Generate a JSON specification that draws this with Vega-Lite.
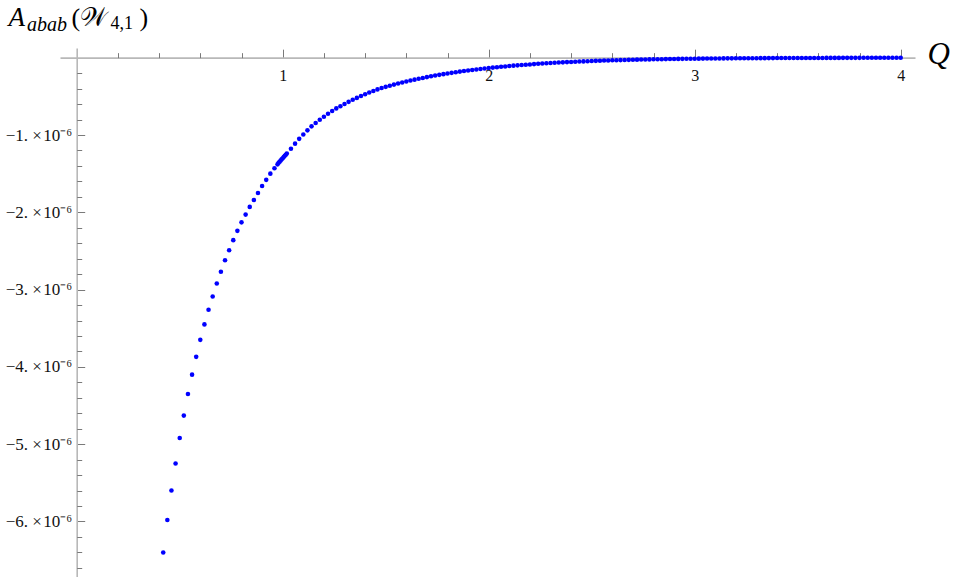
{
  "$schema": "https://vega.github.io/schema/vega-lite/v6.json",
  "autosize": "none",
  "width": 855,
  "height": 529,
  "padding": {"left": 60, "top": 48, "right": 39, "bottom": 0},
  "background": "white",
  "data": {"values": [
    {"Q":0.42,"A":-6.40e-6},{"Q":0.44,"A":-5.98e-6},{"Q":0.46,"A":-5.60e-6},{"Q":0.48,"A":-5.25e-6},
    {"Q":0.50,"A":-4.92e-6},{"Q":0.52,"A":-4.63e-6},{"Q":0.54,"A":-4.35e-6},{"Q":0.56,"A":-4.10e-6},
    {"Q":0.58,"A":-3.87e-6},{"Q":0.60,"A":-3.65e-6},{"Q":0.62,"A":-3.45e-6},{"Q":0.64,"A":-3.26e-6},
    {"Q":0.66,"A":-3.09e-6},{"Q":0.68,"A":-2.92e-6},{"Q":0.70,"A":-2.77e-6},{"Q":0.72,"A":-2.62e-6},
    {"Q":0.74,"A":-2.49e-6},{"Q":0.76,"A":-2.36e-6},{"Q":0.78,"A":-2.24e-6},{"Q":0.80,"A":-2.13e-6},
    {"Q":0.82,"A":-2.03e-6},{"Q":0.84,"A":-1.93e-6},{"Q":0.86,"A":-1.84e-6},{"Q":0.88,"A":-1.75e-6},
    {"Q":0.90,"A":-1.66e-6},{"Q":0.92,"A":-1.58e-6},{"Q":0.94,"A":-1.50e-6},{"Q":0.96,"A":-1.43e-6},
    {"Q":0.975,"A":-1.38e-6},{"Q":0.98,"A":-1.36e-6},{"Q":0.985,"A":-1.345e-6},{"Q":0.99,"A":-1.33e-6},
    {"Q":0.995,"A":-1.315e-6},{"Q":1.00,"A":-1.30e-6},{"Q":1.005,"A":-1.285e-6},{"Q":1.01,"A":-1.27e-6},
    {"Q":1.015,"A":-1.255e-6},{"Q":1.02,"A":-1.24e-6},{"Q":1.04,"A":-1.178e-6},{"Q":1.06,"A":-1.112e-6},
    {"Q":1.08,"A":-1.05e-6},{"Q":1.10,"A":-0.993e-6},{"Q":1.12,"A":-0.94e-6},{"Q":1.14,"A":-0.888e-6},
    {"Q":1.16,"A":-0.845e-6},{"Q":1.18,"A":-0.802e-6},{"Q":1.20,"A":-0.763e-6},{"Q":1.22,"A":-0.724e-6},
    {"Q":1.24,"A":-0.69e-6},{"Q":1.26,"A":-0.656e-6},{"Q":1.28,"A":-0.628e-6},{"Q":1.30,"A":-0.600e-6},
    {"Q":1.32,"A":-0.571e-6},{"Q":1.34,"A":-0.545e-6},{"Q":1.36,"A":-0.52e-6},{"Q":1.38,"A":-0.495e-6},
    {"Q":1.40,"A":-0.472e-6},{"Q":1.42,"A":-0.45e-6},{"Q":1.44,"A":-0.43e-6},{"Q":1.46,"A":-0.41e-6},
    {"Q":1.48,"A":-0.393e-6},{"Q":1.50,"A":-0.377e-6},{"Q":1.52,"A":-0.362e-6},{"Q":1.54,"A":-0.348e-6},
    {"Q":1.56,"A":-0.334e-6},{"Q":1.58,"A":-0.321e-6},{"Q":1.60,"A":-0.308e-6},{"Q":1.62,"A":-0.296e-6},
    {"Q":1.64,"A":-0.284e-6},{"Q":1.66,"A":-0.273e-6},{"Q":1.68,"A":-0.262e-6},{"Q":1.70,"A":-0.251e-6},
    {"Q":1.72,"A":-0.241e-6},{"Q":1.74,"A":-0.231e-6},{"Q":1.76,"A":-0.222e-6},{"Q":1.78,"A":-0.213e-6},
    {"Q":1.80,"A":-0.204e-6},{"Q":1.82,"A":-0.196e-6},{"Q":1.84,"A":-0.188e-6},{"Q":1.86,"A":-0.180e-6},
    {"Q":1.88,"A":-0.173e-6},{"Q":1.90,"A":-0.166e-6},{"Q":1.92,"A":-0.159e-6},{"Q":1.94,"A":-0.152e-6},
    {"Q":1.96,"A":-0.146e-6},{"Q":1.98,"A":-0.140e-6},{"Q":2.00,"A":-0.134e-6},{"Q":2.02,"A":-0.128e-6},
    {"Q":2.04,"A":-0.123e-6},{"Q":2.06,"A":-0.118e-6},{"Q":2.08,"A":-0.113e-6},{"Q":2.10,"A":-0.108e-6},
    {"Q":2.12,"A":-0.103e-6},{"Q":2.14,"A":-0.099e-6},{"Q":2.16,"A":-0.095e-6},{"Q":2.18,"A":-0.091e-6},
    {"Q":2.20,"A":-0.087e-6},{"Q":2.22,"A":-0.083e-6},{"Q":2.24,"A":-0.079e-6},{"Q":2.26,"A":-0.076e-6},
    {"Q":2.28,"A":-0.072e-6},{"Q":2.30,"A":-0.069e-6},{"Q":2.32,"A":-0.066e-6},{"Q":2.34,"A":-0.063e-6},
    {"Q":2.36,"A":-0.060e-6},{"Q":2.38,"A":-0.057e-6},{"Q":2.40,"A":-0.055e-6},{"Q":2.42,"A":-0.052e-6},
    {"Q":2.44,"A":-0.050e-6},{"Q":2.46,"A":-0.048e-6},{"Q":2.48,"A":-0.045e-6},{"Q":2.50,"A":-0.043e-6},
    {"Q":2.52,"A":-0.041e-6},{"Q":2.54,"A":-0.039e-6},{"Q":2.56,"A":-0.037e-6},{"Q":2.58,"A":-0.036e-6},
    {"Q":2.60,"A":-0.034e-6},{"Q":2.62,"A":-0.032e-6},{"Q":2.64,"A":-0.031e-6},{"Q":2.66,"A":-0.029e-6},
    {"Q":2.68,"A":-0.028e-6},{"Q":2.70,"A":-0.027e-6},{"Q":2.72,"A":-0.025e-6},{"Q":2.74,"A":-0.024e-6},
    {"Q":2.76,"A":-0.023e-6},{"Q":2.78,"A":-0.022e-6},{"Q":2.80,"A":-0.021e-6},{"Q":2.82,"A":-0.020e-6},
    {"Q":2.84,"A":-0.019e-6},{"Q":2.86,"A":-0.018e-6},{"Q":2.88,"A":-0.017e-6},{"Q":2.90,"A":-0.016e-6},
    {"Q":2.92,"A":-0.0155e-6},{"Q":2.94,"A":-0.0148e-6},{"Q":2.96,"A":-0.014e-6},{"Q":2.98,"A":-0.0133e-6},
    {"Q":3.00,"A":-0.0127e-6},{"Q":3.02,"A":-0.0121e-6},{"Q":3.04,"A":-0.0115e-6},{"Q":3.06,"A":-0.011e-6},
    {"Q":3.08,"A":-0.0104e-6},{"Q":3.10,"A":-0.0099e-6},{"Q":3.12,"A":-0.0095e-6},{"Q":3.14,"A":-0.009e-6},
    {"Q":3.16,"A":-0.0086e-6},{"Q":3.18,"A":-0.0082e-6},{"Q":3.20,"A":-0.0078e-6},{"Q":3.22,"A":-0.0074e-6},
    {"Q":3.24,"A":-0.0071e-6},{"Q":3.26,"A":-0.0067e-6},{"Q":3.28,"A":-0.0064e-6},{"Q":3.30,"A":-0.0061e-6},
    {"Q":3.32,"A":-0.0058e-6},{"Q":3.34,"A":-0.0055e-6},{"Q":3.36,"A":-0.0053e-6},{"Q":3.38,"A":-0.005e-6},
    {"Q":3.40,"A":-0.0048e-6},{"Q":3.42,"A":-0.0046e-6},{"Q":3.44,"A":-0.0043e-6},{"Q":3.46,"A":-0.0041e-6},
    {"Q":3.48,"A":-0.0039e-6},{"Q":3.50,"A":-0.0037e-6},{"Q":3.52,"A":-0.0036e-6},{"Q":3.54,"A":-0.0034e-6},
    {"Q":3.56,"A":-0.0032e-6},{"Q":3.58,"A":-0.0031e-6},{"Q":3.60,"A":-0.0029e-6},{"Q":3.62,"A":-0.0028e-6},
    {"Q":3.64,"A":-0.0027e-6},{"Q":3.66,"A":-0.0025e-6},{"Q":3.68,"A":-0.0024e-6},{"Q":3.70,"A":-0.0023e-6},
    {"Q":3.72,"A":-0.0022e-6},{"Q":3.74,"A":-0.0021e-6},{"Q":3.76,"A":-0.002e-6},{"Q":3.78,"A":-0.0019e-6},
    {"Q":3.80,"A":-0.0018e-6},{"Q":3.82,"A":-0.0017e-6},{"Q":3.84,"A":-0.0016e-6},{"Q":3.86,"A":-0.0016e-6},
    {"Q":3.88,"A":-0.0015e-6},{"Q":3.90,"A":-0.0014e-6},{"Q":3.92,"A":-0.0013e-6},{"Q":3.94,"A":-0.0013e-6},
    {"Q":3.96,"A":-0.0012e-6},{"Q":3.98,"A":-0.0012e-6},{"Q":4.00,"A":-0.0011e-6}
  ]},
  "resolve": {"axis": {"x": "independent", "y": "independent"}},
  "layer": [
    {
      "mark": {"type": "circle", "color": "#0000ff", "opacity": 1, "size": 21},
      "encoding": {
        "x": {"field": "Q", "type": "quantitative",
          "scale": {"domain": [-0.0811, 4.0694], "nice": false, "zero": false},
          "axis": {"orient": "bottom", "offset": -519.34, "values": [1, 2, 3, 4],
            "tickSize": -8.5, "labelPadding": 18, "labelFont": "Liberation Serif", "labelFontSize": 16, "labelFlush": false, "labelOverlap": false,
            "title": "Q", "titleX": 867, "titleY": 6.3, "titleAlign": "left", "titleBaseline": "alphabetic",
            "titleFontStyle": "italic", "titleFontSize": 31}},
        "y": {"field": "A", "type": "quantitative",
          "scale": {"domain": [-6.718e-6, 0.1255e-6], "nice": false, "zero": false},
          "axis": {"orient": "left", "offset": -16.7,
            "values": [-1e-6, -2e-6, -3e-6, -4e-6, -5e-6, -6e-6],
            "tickSize": -8, "labelPadding": 13, "labelFont": "Liberation Serif", "labelFontSize": 17, "labelFlush": false, "labelOverlap": false,
            "labelExpr": "'\u2212' + format(round(-datum.value*1e6), 'd') + '. \u00d7\u200a10\u207b\u2076'",
            "title": "A", "titleX": -68.7, "titleY": -23, "titleAngle": 0, "titleAlign": "left",
            "titleBaseline": "alphabetic", "titleFontStyle": "italic", "titleFontSize": 27}}
      }
    },
    {
      "mark": {"type": "circle", "opacity": 0},
      "encoding": {
        "x": {"field": "Q", "type": "quantitative",
          "axis": {"orient": "bottom", "offset": -519.34,
            "values": [0.2,0.4,0.6,0.8,1.2,1.4,1.6,1.8,2.2,2.4,2.6,2.8,3.2,3.4,3.6,3.8],
            "tickSize": -5, "labels": false, "domain": false,
            "title": "(\ud835\udcb2", "titleX": 11, "titleY": -32.66, "titleAlign": "left", "titleBaseline": "alphabetic",
            "titleFontSize": 26}},
        "y": {"field": "A", "type": "quantitative",
          "axis": {"orient": "left", "offset": -16.7,
            "values": [-0.2e-6,-0.4e-6,-0.6e-6,-0.8e-6,-1.2e-6,-1.4e-6,-1.6e-6,-1.8e-6,-2.2e-6,-2.4e-6,-2.6e-6,-2.8e-6,-3.2e-6,-3.4e-6,-3.6e-6,-3.8e-6,-4.2e-6,-4.4e-6,-4.6e-6,-4.8e-6,-5.2e-6,-5.4e-6,-5.6e-6,-5.8e-6,-6.2e-6,-6.4e-6,-6.6e-6],
            "tickSize": -5, "labels": false, "domain": false,
            "title": "abab", "titleX": -50.2, "titleY": -18, "titleAngle": 0, "titleAlign": "left",
            "titleBaseline": "alphabetic", "titleFontStyle": "italic", "titleFontSize": 20}}
      }
    },
    {
      "mark": {"type": "circle", "opacity": 0},
      "encoding": {
        "x": {"field": "Q", "type": "quantitative",
          "axis": {"orient": "top", "offset": 0, "ticks": false, "labels": false, "domain": false,
            "title": "4,1", "titleX": 50, "titleY": -20, "titleAlign": "left", "titleBaseline": "alphabetic",
            "titleFontSize": 18}},
        "y": {"field": "A", "type": "quantitative",
          "axis": {"orient": "left", "offset": 0, "ticks": false, "labels": false, "domain": false,
            "title": ")", "titleX": 79, "titleY": -23, "titleAngle": 0, "titleAlign": "left",
            "titleBaseline": "alphabetic", "titleFontSize": 26}}
      }
    }
  ],
  "config": {
    "view": {"stroke": null},
    "axis": {"grid": false, "labelFont": "Liberation Serif", "titleFont": "Liberation Serif",
      "titleFontWeight": "normal", "titleColor": "#000000", "labelColor": "#111111",
      "domainColor": "#b8b8b8", "domainWidth": 1.6, "tickColor": "#7a7a7a", "tickWidth": 1, "titlePadding": 0}
  }
}
